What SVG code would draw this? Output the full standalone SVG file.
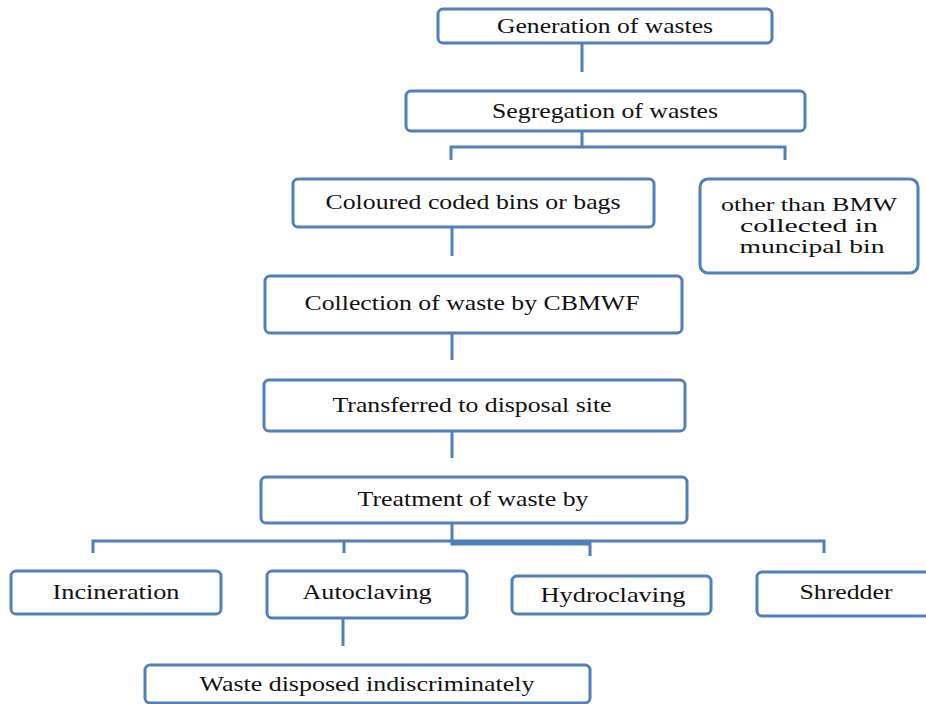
<svg xmlns="http://www.w3.org/2000/svg" width="926" height="704" viewBox="0 0 926 704">
<style>
.box{fill:#fff;stroke:#4f7fbc;stroke-width:3}
.lbl{font-family:'Liberation Serif','Times New Roman',serif;font-size:22px;fill:#111;text-anchor:middle}
.sm{font-size:19px}
.con{fill:none;stroke:#4f7fbc;stroke-width:3}
</style>
<rect width="926" height="704" fill="#fff"/>
<g id="connectors">
<path class="con" d="M582,43 V72"/>
<path class="con" d="M582,131 V147 M451,160 V147 H785 V160"/>
<path class="con" d="M452,227 V256"/>
<path class="con" d="M452,333 V360"/>
<path class="con" d="M452,431 V458"/>
<path class="con" d="M452,523 V541 M93,553 V541 H824 V553 M344,541 V553 M452,541 V544 H590 V556"/>
<path class="con" d="M343,618 V646"/>
</g>
<g id="n1"><rect class="box" x="438" y="9" width="334" height="34" rx="5"/><text class="lbl" x="605" y="33" textLength="216" lengthAdjust="spacingAndGlyphs">Generation of wastes</text></g>
<g id="n2"><rect class="box" x="406" y="91" width="399" height="40" rx="5"/><text class="lbl" x="605" y="118" textLength="226" lengthAdjust="spacingAndGlyphs">Segregation of wastes</text></g>
<g id="n3"><rect class="box" x="293" y="179" width="361" height="48" rx="5"/><text class="lbl" x="473" y="209" textLength="295" lengthAdjust="spacingAndGlyphs">Coloured coded bins or bags</text></g>
<g id="n4"><rect class="box" x="700" y="179" width="218" height="94" rx="8"/>
<text class="lbl sm" x="809" y="211" textLength="176" lengthAdjust="spacingAndGlyphs">other than BMW</text>
<text class="lbl sm" x="809" y="232" textLength="138" lengthAdjust="spacingAndGlyphs">collected in</text>
<text class="lbl sm" x="812" y="253" textLength="145" lengthAdjust="spacingAndGlyphs">muncipal bin</text></g>
<g id="n5"><rect class="box" x="265" y="276" width="417" height="57" rx="5"/><text class="lbl" x="472" y="310" textLength="335" lengthAdjust="spacingAndGlyphs">Collection of waste by CBMWF</text></g>
<g id="n6"><rect class="box" x="264" y="380" width="421" height="51" rx="5"/><text class="lbl" x="472" y="412" textLength="279" lengthAdjust="spacingAndGlyphs">Transferred to disposal site</text></g>
<g id="n7"><rect class="box" x="261" y="477" width="426" height="46" rx="5"/><text class="lbl" x="473" y="506" textLength="231" lengthAdjust="spacingAndGlyphs">Treatment of waste by</text></g>
<g id="n8"><rect class="box" x="11" y="571" width="210" height="43" rx="5"/><text class="lbl" x="116" y="599" textLength="127" lengthAdjust="spacingAndGlyphs">Incineration</text></g>
<g id="n9"><rect class="box" x="267" y="571" width="200" height="47" rx="5"/><text class="lbl" x="367" y="599" textLength="129" lengthAdjust="spacingAndGlyphs">Autoclaving</text></g>
<g id="n10"><rect class="box" x="512" y="576" width="199" height="38" rx="5"/><text class="lbl" x="613" y="602" textLength="145" lengthAdjust="spacingAndGlyphs">Hydroclaving</text></g>
<g id="n11"><rect class="box" x="757" y="572" width="175" height="44" rx="5"/><text class="lbl" x="846" y="599" textLength="93" lengthAdjust="spacingAndGlyphs">Shredder</text></g>
<g id="n12"><rect class="box" x="145" y="665" width="445" height="38" rx="5"/><text class="lbl" x="367" y="691" textLength="335" lengthAdjust="spacingAndGlyphs">Waste disposed indiscriminately</text></g>
</svg>
